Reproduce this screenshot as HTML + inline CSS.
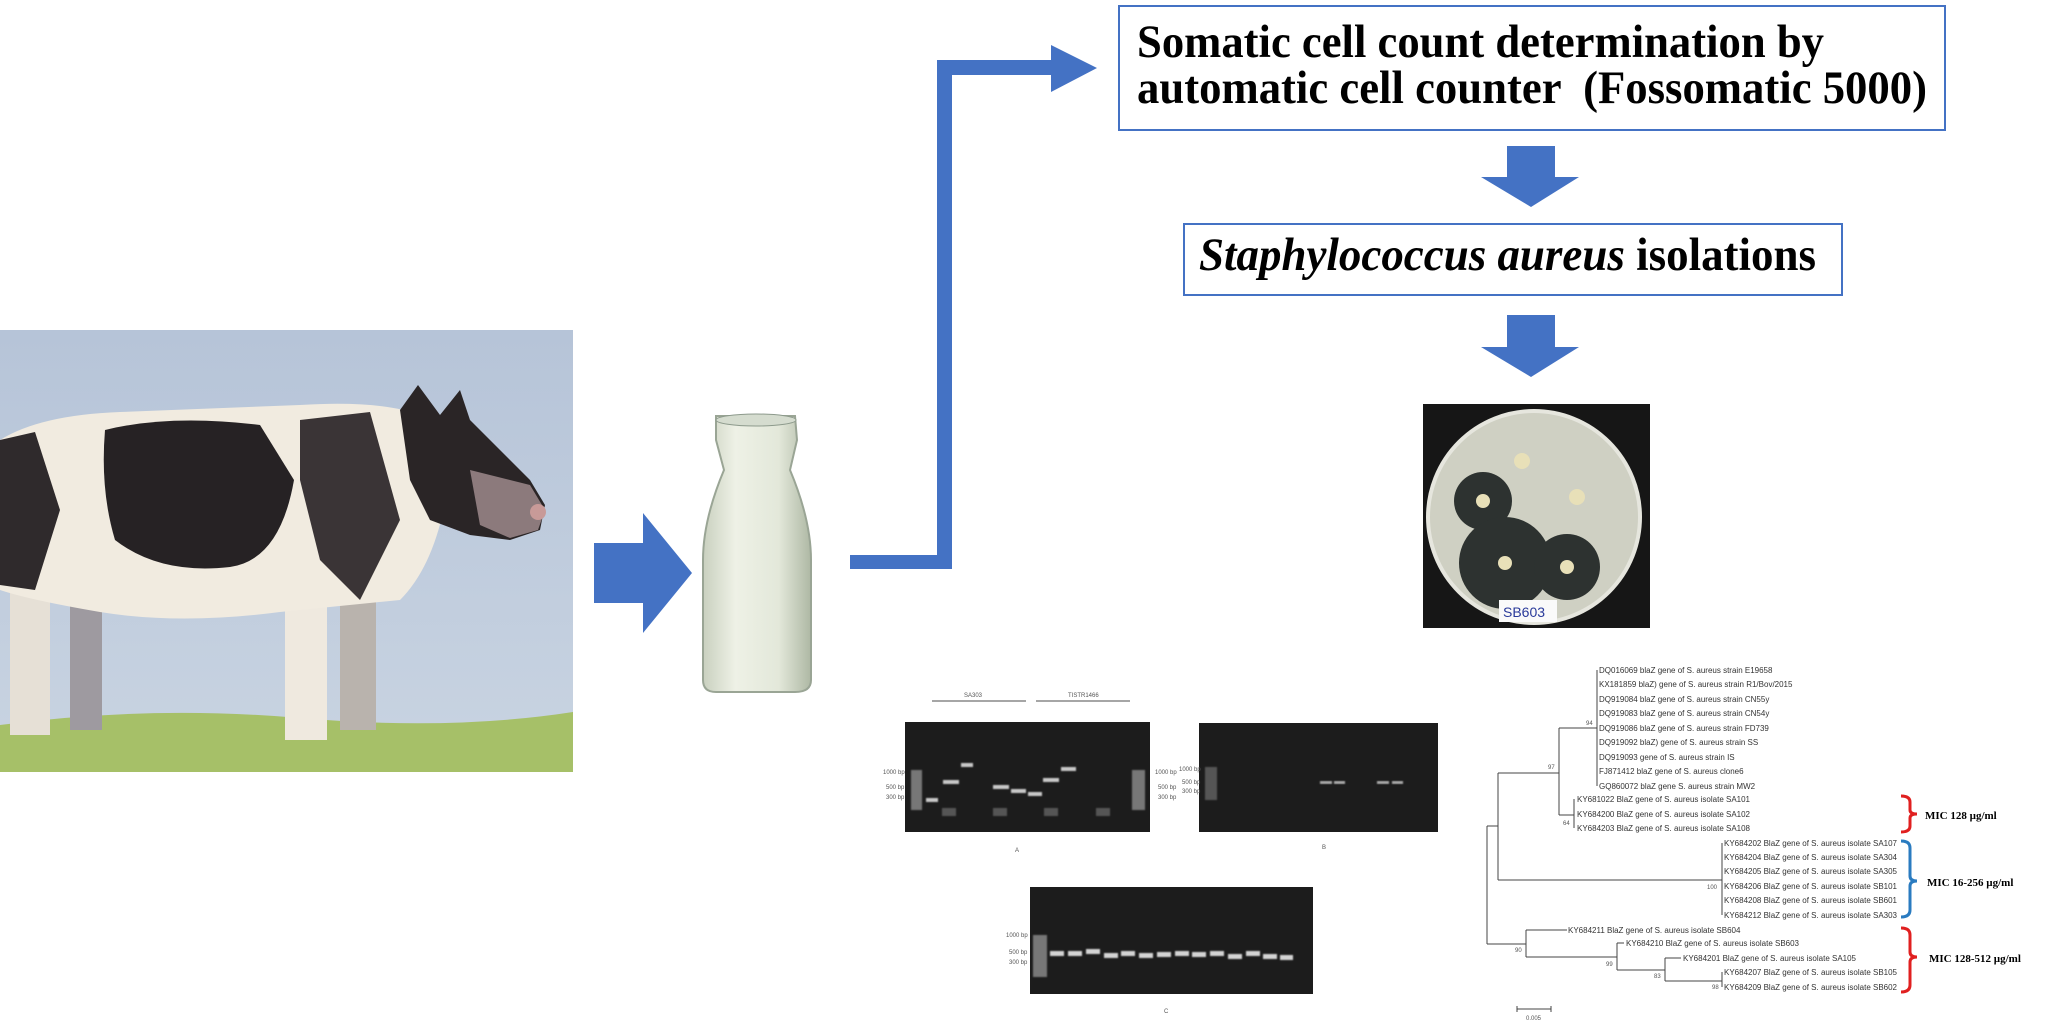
<!DOCTYPE html>
<html><head><meta charset="utf-8"><style>
html,body{margin:0;padding:0;background:#fff;}
svg{display:block;}
.t{font-family:"Liberation Sans",sans-serif;font-size:8px;fill:#333;}
.g{font-family:"Liberation Sans",sans-serif;font-size:6px;fill:#555;}
.m{font-family:"Liberation Serif",serif;font-weight:bold;font-size:11px;fill:#000;}
</style></head><body>
<svg width="2052" height="1024" viewBox="0 0 2052 1024" xmlns="http://www.w3.org/2000/svg">
<defs>
<linearGradient id="sky" x1="0" y1="0" x2="0" y2="1"><stop offset="0" stop-color="#b6c4d8"/><stop offset="1" stop-color="#c9d4e2"/></linearGradient>
<linearGradient id="milk" x1="0" y1="0" x2="1" y2="0"><stop offset="0" stop-color="#c9d0bf"/><stop offset="0.3" stop-color="#eef1e6"/><stop offset="0.7" stop-color="#e3e8da"/><stop offset="1" stop-color="#aeb8a4"/></linearGradient>
<filter id="bl"><feGaussianBlur stdDeviation="0.8"/></filter>
</defs>
<!-- cow picture -->
<rect x="0" y="330" width="573" height="442" fill="url(#sky)"/>
<path d="M0,725 Q150,705 300,718 T573,712 L573,772 L0,772Z" fill="#a6c068"/>
<!-- legs -->
<rect x="10" y="590" width="40" height="145" fill="#e6e0d6"/>
<rect x="70" y="600" width="32" height="130" fill="#9e9aa0"/>
<rect x="285" y="590" width="42" height="150" fill="#efe9df"/>
<rect x="340" y="590" width="36" height="140" fill="#b9b3ad"/>
<!-- body -->
<path d="M0,440 Q40,415 120,412 L300,405 Q380,400 420,415 L450,470 Q440,560 400,600 L280,612 Q180,625 100,612 Q30,600 0,590Z" fill="#f1ebe0"/>
<path d="M105,430 Q170,414 260,425 L294,480 Q280,560 230,567 Q160,575 115,540 Q100,490 105,430Z" fill="#262224"/>
<path d="M300,420 L370,412 L400,520 L360,600 L320,560 L300,480Z" fill="#3a3436"/>
<path d="M0,440 L35,432 L60,510 L35,590 L0,585Z" fill="#2f2a2c"/>
<!-- head -->
<path d="M400,410 L418,385 L440,415 L460,390 L470,420 L500,450 L530,480 L545,505 L540,530 L510,540 L470,535 L430,520 L410,480Z" fill="#2a2526"/>
<path d="M470,470 L530,485 L545,510 L538,530 L510,538 L480,525Z" fill="#8c7a7c"/>
<circle cx="538" cy="512" r="8" fill="#c89a98"/>
<!-- blue arrow -->
<polygon points="594,543 643,543 643,513 692,573 643,633 643,603 594,603" fill="#4472c4"/>
<!-- milk bottle -->
<path d="M716,416 L795,416 L797,440 L790,470 Q811,520 811,560 L811,680 Q811,692 795,692 L716,692 Q703,692 703,680 L703,560 Q703,520 724,470 L716,440Z" fill="url(#milk)" stroke="#9aa595" stroke-width="2"/>
<ellipse cx="756" cy="420" rx="40" ry="6" fill="#d5dccf" stroke="#8d9a8c"/>
<!-- connector -->
<polygon points="850,555 937,555 937,60 1051,60 1051,45 1097,68 1051,92 1051,75 952,75 952,569 850,569" fill="#4472c4"/>
<!-- box 1 -->
<rect x="1119" y="6" width="826" height="124" fill="#fff" stroke="#4472c4" stroke-width="2"/>
<text x="1137" y="57" font-family="Liberation Serif,serif" font-weight="bold" font-size="47" textLength="687" lengthAdjust="spacingAndGlyphs">Somatic cell count determination by</text>
<text x="1137" y="103" font-family="Liberation Serif,serif" font-weight="bold" font-size="47" textLength="790" lengthAdjust="spacingAndGlyphs" xml:space="preserve">automatic cell counter  (Fossomatic 5000)</text>
<!-- arrow down 1 -->
<polygon points="1507,146 1555,146 1555,177 1579,177 1531,207 1481,177 1507,177" fill="#4472c4"/>
<!-- box 2 -->
<rect x="1184" y="224" width="658" height="71" fill="#fff" stroke="#4472c4" stroke-width="2"/>
<text x="1199" y="270" font-family="Liberation Serif,serif" font-weight="bold" font-size="47" textLength="617" lengthAdjust="spacingAndGlyphs"><tspan font-style="italic">Staphylococcus aureus</tspan> isolations</text>
<!-- arrow down 2 -->
<polygon points="1507,315 1555,315 1555,347 1579,347 1531,377 1481,347 1507,347" fill="#4472c4"/>
<!-- petri -->
<rect x="1423" y="404" width="227" height="224" fill="#161616"/>
<circle cx="1534" cy="517" r="106" fill="#cfd0c3" stroke="#e6e6de" stroke-width="4"/>
<circle cx="1483" cy="501" r="29" fill="#2d3230"/>
<circle cx="1505" cy="563" r="46" fill="#2d3230"/>
<circle cx="1567" cy="567" r="33" fill="#2d3230"/>
<circle cx="1522" cy="461" r="8" fill="#e8e0b8"/><circle cx="1577" cy="497" r="8" fill="#e8e0b8"/>
<circle cx="1483" cy="501" r="7" fill="#e8e0b8"/><circle cx="1505" cy="563" r="7" fill="#e8e0b8"/><circle cx="1567" cy="567" r="7" fill="#e8e0b8"/>
<rect x="1499" y="600" width="58" height="22" fill="#fafafa"/>
<text x="1503" y="617" font-family="Liberation Sans,sans-serif" font-size="14" fill="#2a3a9a">SB603</text>
<!-- gel A -->
<line x1="932" y1="701" x2="1026" y2="701" stroke="#888" stroke-width="1.5"/><line x1="1036" y1="701" x2="1130" y2="701" stroke="#888" stroke-width="1.5"/>
<text x="964" y="697" class="g" font-size="7">SA303</text><text x="1068" y="697" class="g" font-size="7">TISTR1466</text>
<rect x="905" y="722" width="245" height="110" fill="#1c1c1c"/>
<g fill="#c8c8c8" filter="url(#bl)">
<rect x="911" y="770" width="11" height="40" fill="#777"/><rect x="1132" y="770" width="13" height="40" fill="#777"/>
<rect x="926" y="798" width="12" height="4"/><rect x="943" y="780" width="16" height="4"/><rect x="961" y="763" width="12" height="4"/>
<rect x="993" y="785" width="16" height="4"/><rect x="1011" y="789" width="15" height="4"/><rect x="1028" y="792" width="14" height="4"/>
<rect x="1043" y="778" width="16" height="4"/><rect x="1061" y="767" width="15" height="4"/>
<rect x="942" y="808" width="14" height="8" fill="#555"/><rect x="993" y="808" width="14" height="8" fill="#555"/><rect x="1044" y="808" width="14" height="8" fill="#555"/><rect x="1096" y="808" width="14" height="8" fill="#555"/>
</g>
<text x="1015" y="852" class="g" font-size="11" fill="#333">A</text>
<text x="883" y="774" class="g">1000 bp</text><text x="886" y="789" class="g">500 bp</text><text x="886" y="799" class="g">300 bp</text>
<text x="1155" y="774" class="g">1000 bp</text><text x="1158" y="789" class="g">500 bp</text><text x="1158" y="799" class="g">300 bp</text>
<!-- gel B -->
<rect x="1199" y="723" width="239" height="109" fill="#1c1c1c"/>
<rect x="1205" y="767" width="12" height="33" fill="#555" filter="url(#bl)"/>
<g fill="#a8a8a8" filter="url(#bl)"><rect x="1320" y="781" width="12" height="3"/><rect x="1334" y="781" width="11" height="3"/><rect x="1377" y="781" width="12" height="3"/><rect x="1392" y="781" width="11" height="3"/></g>
<text x="1322" y="849" class="g" font-size="11" fill="#333">B</text>
<text x="1179" y="771" class="g">1000 bp</text><text x="1182" y="784" class="g">500 bp</text><text x="1182" y="793" class="g">300 bp</text>
<!-- gel C -->
<rect x="1030" y="887" width="283" height="107" fill="#1c1c1c"/>
<rect x="1033" y="935" width="14" height="42" fill="#777" filter="url(#bl)"/>
<g fill="#d4d4d4" filter="url(#bl)">
<rect x="1050" y="951" width="14" height="5"/><rect x="1068" y="951" width="14" height="5"/><rect x="1086" y="949" width="14" height="5"/><rect x="1104" y="953" width="14" height="5"/><rect x="1121" y="951" width="14" height="5"/><rect x="1139" y="953" width="14" height="5"/><rect x="1157" y="952" width="14" height="5"/><rect x="1175" y="951" width="14" height="5"/><rect x="1192" y="952" width="14" height="5"/><rect x="1210" y="951" width="14" height="5"/><rect x="1228" y="954" width="14" height="5"/><rect x="1246" y="951" width="14" height="5"/><rect x="1263" y="954" width="14" height="5"/><rect x="1280" y="955" width="13" height="5"/>
</g>
<text x="1164" y="1013" class="g" font-size="11" fill="#333">C</text>
<text x="1006" y="937" class="g">1000 bp</text><text x="1009" y="954" class="g">500 bp</text><text x="1009" y="964" class="g">300 bp</text>
<!-- tree -->
<g stroke="#444" stroke-width="1" fill="none">
<path d="M1487,826V944M1487,826H1498M1498,773V880M1498,773H1559M1498,880H1722M1559,728V815M1559,728H1597M1597,670V786M1559,815H1574M1574,799V828M1722,843V915M1487,944H1526M1526,930V957M1526,930H1567M1526,957H1617M1617,943V970M1617,943H1624M1617,970H1665M1665,958V981M1665,958H1681M1665,981H1722M1722,972V987M1517,1009H1551M1517,1006V1012M1551,1006V1012"/>
</g>
<g class="t">
<text x="1599" y="673">DQ016069 blaZ gene of S. aureus strain E19658</text>
<text x="1599" y="687">KX181859 blaZ) gene of S. aureus strain R1/Bov/2015</text>
<text x="1599" y="702">DQ919084 blaZ gene of S. aureus strain CN55y</text>
<text x="1599" y="716">DQ919083 blaZ gene of S. aureus strain CN54y</text>
<text x="1599" y="731">DQ919086 blaZ gene of S. aureus strain FD739</text>
<text x="1599" y="745">DQ919092 blaZ) gene of S. aureus strain SS</text>
<text x="1599" y="760">DQ919093 gene of S. aureus strain IS</text>
<text x="1599" y="774">FJ871412 blaZ gene of S. aureus clone6</text>
<text x="1599" y="789">GQ860072 blaZ gene S. aureus strain MW2</text>
<text x="1577" y="802">KY681022 BlaZ gene of S. aureus isolate SA101</text>
<text x="1577" y="817">KY684200 BlaZ gene of S. aureus isolate SA102</text>
<text x="1577" y="831">KY684203 BlaZ gene of S. aureus isolate SA108</text>
<text x="1724" y="846">KY684202 BlaZ gene of S. aureus isolate SA107</text>
<text x="1724" y="860">KY684204 BlaZ gene of S. aureus isolate SA304</text>
<text x="1724" y="874">KY684205 BlaZ gene of S. aureus isolate SA305</text>
<text x="1724" y="889">KY684206 BlaZ gene of S. aureus isolate SB101</text>
<text x="1724" y="903">KY684208 BlaZ gene of S. aureus isolate SB601</text>
<text x="1724" y="918">KY684212 BlaZ gene of S. aureus isolate SA303</text>
<text x="1568" y="933">KY684211 BlaZ gene of S. aureus isolate SB604</text>
<text x="1626" y="946">KY684210 BlaZ gene of S. aureus isolate SB603</text>
<text x="1683" y="961">KY684201 BlaZ gene of S. aureus isolate SA105</text>
<text x="1724" y="975">KY684207 BlaZ gene of S. aureus isolate SB105</text>
<text x="1724" y="990">KY684209 BlaZ gene of S. aureus isolate SB602</text>
</g>
<g class="g">
<text x="1586" y="725">94</text><text x="1548" y="769">97</text><text x="1563" y="825">64</text><text x="1707" y="889">100</text>
<text x="1515" y="952">90</text><text x="1606" y="966">99</text><text x="1654" y="978">83</text><text x="1712" y="989">98</text>
<text x="1526" y="1020">0.005</text>
</g>
<!-- brackets -->
<g fill="none" stroke-width="3">
<path d="M1901,796 Q1910,796 1910,802 L1910,810 Q1910,814 1917,814 Q1910,814 1910,818 L1910,826 Q1910,832 1901,832" stroke="#e02020"/>
<path d="M1901,841 Q1910,841 1910,848 L1910,876 Q1910,881 1917,881 Q1910,881 1910,886 L1910,910 Q1910,917 1901,917" stroke="#2a7bc0"/>
<path d="M1901,928 Q1910,928 1910,935 L1910,952 Q1910,957 1917,957 Q1910,957 1910,962 L1910,985 Q1910,992 1901,992" stroke="#e02020"/>
</g>
<text x="1925" y="819" class="m">MIC 128 µg/ml</text>
<text x="1927" y="886" class="m">MIC 16-256 µg/ml</text>
<text x="1929" y="962" class="m">MIC 128-512 µg/ml</text>
</svg>
</body></html>
